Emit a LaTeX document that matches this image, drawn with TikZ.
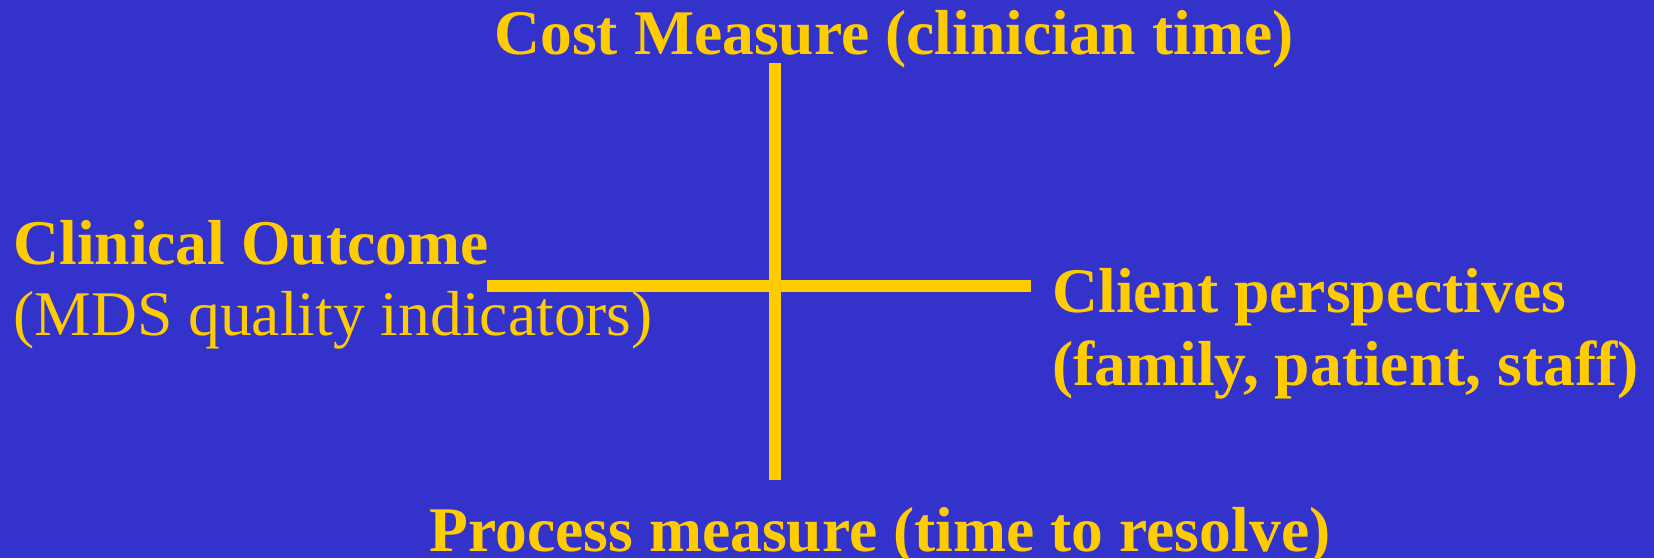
\documentclass[tikz,border=0pt]{standalone}
\usepackage{fontspec}
\setmainfont{Liberation Serif}
\usetikzlibrary{calc}
\definecolor{slidebg}{HTML}{3333CC}
\definecolor{slidegold}{HTML}{FFCC00}
\tikzset{
  lbl/.style={inner sep=0pt, text=slidegold,
              font=\fontsize{31.8}{36}\selectfont\bfseries},
  sublbl/.style={inner sep=0pt, text=slidegold,
                 font=\fontsize{31.8}{36}\selectfont},
  axis/.style={draw=slidegold, line width=6.3pt}}
\begin{document}
\begin{tikzpicture}[x=0.5pt, y=0.5pt]
  \fill[slidebg] (0,0) rectangle (1654,558);
  \useasboundingbox (0,0) rectangle (1654,558);
  % the cross
  \coordinate (top) at (775,495);
  \coordinate (bot) at (775,78);
  \coordinate (lft) at (487,272);
  \coordinate (rgt) at (1031,272);
  \draw[axis] (top) -- (bot);
  \draw[axis] (lft) -- (rgt);
  % labels
  \node[lbl, anchor=base] (cost) at (894,503) {Cost Measure (clinician time)};
  \node[lbl, anchor=base west] (clin) at (13,294) {Clinical Outcome};
  \node[sublbl, anchor=base west] (mds) at ($(clin.base west)+(0,-71)$)
    {(MDS quality indicators)};
  \node[lbl, anchor=base west] (client) at (1052,246) {Client perspectives};
  \node[lbl, anchor=base west] (who) at ($(client.base west)+(0,-73)$)
    {(family, patient, staff)};
  \node[lbl, anchor=base] (proc) at (880,7) {Process measure (time to resolve)};
\end{tikzpicture}
\end{document}
